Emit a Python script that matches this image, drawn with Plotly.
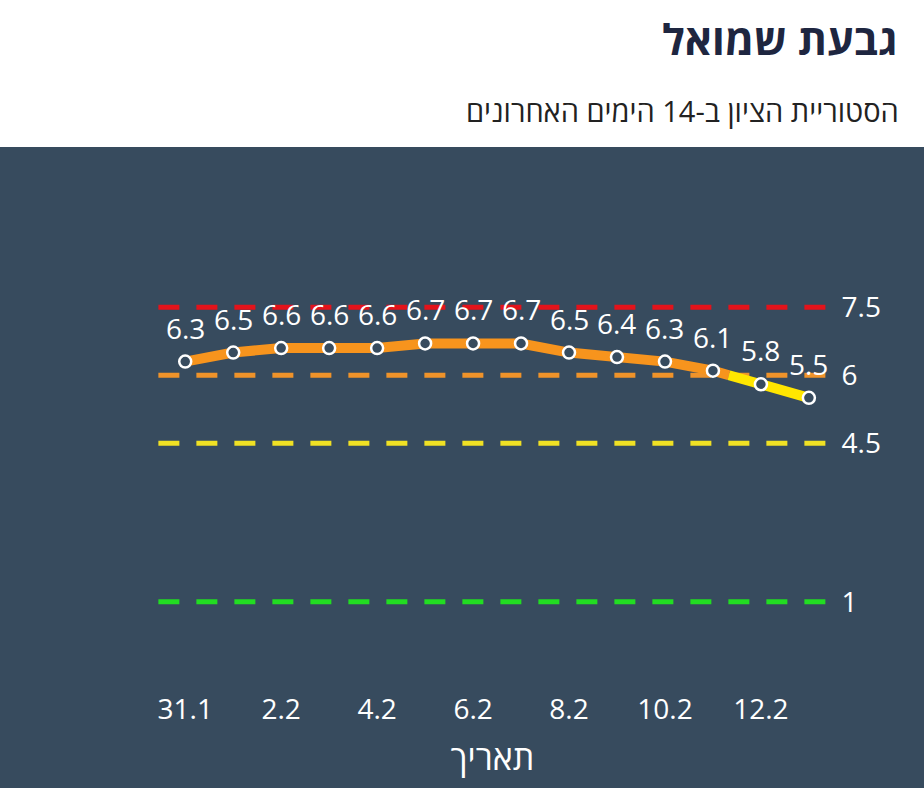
import plotly.graph_objects as go

dates = ["31.1", "1.2", "2.2", "3.2", "4.2", "5.2", "6.2", "7.2", "8.2", "9.2", "10.2", "11.2", "12.2", "13.2"]
scores = [6.3, 6.5, 6.6, 6.6, 6.6, 6.7, 6.7, 6.7, 6.5, 6.4, 6.3, 6.1, 5.8, 5.5]
tick_labels = ["31.1", "2.2", "4.2", "6.2", "8.2", "10.2", "12.2"]
thresholds = [7.5, 6, 4.5, 1]
threshold_colors = ["#e3131b", "#ef932a", "#f0e124", "#22dd22"]
title_text = "גבעת שמואל"
subtitle_text = "הסטוריית הציון ב-14 הימים האחרונים"
xaxis_title = "תאריך"

BG = "#374b5e"
FONT = "Open Sans, DejaVu Sans, sans-serif"
ORANGE = "#f7941d"
YELLOW = "#ffe600"

# split the line where it crosses the orange threshold (6)
idx = list(range(len(scores)))
cut = 6.0
orange_x, orange_y, yellow_x, yellow_y = [], [], [], []
for i in range(len(scores)):
    if scores[i] >= cut:
        orange_x.append(i); orange_y.append(scores[i])
    if i + 1 < len(scores) and (scores[i] - cut) * (scores[i + 1] - cut) < 0:
        t = (scores[i] - cut) / (scores[i] - scores[i + 1])
        xc = i + t
        orange_x.append(xc); orange_y.append(cut)
        yellow_x.append(xc); yellow_y.append(cut)
    if scores[i] < cut:
        yellow_x.append(i); yellow_y.append(scores[i])

L, R, T, B = 155, 94, 194, 141
W, H = 924, 788
pw = W - L - R
ph = H - T - B

fig = go.Figure()
fig.add_trace(go.Scatter(x=orange_x, y=orange_y, mode="lines",
                         line=dict(color=ORANGE, width=10), hoverinfo="skip", showlegend=False))
fig.add_trace(go.Scatter(x=yellow_x, y=yellow_y, mode="lines",
                         line=dict(color=YELLOW, width=10), hoverinfo="skip", showlegend=False))
fig.add_trace(go.Scatter(x=idx, y=scores, mode="markers",
                         marker=dict(size=12, color=BG, line=dict(color="white", width=2.5)),
                         showlegend=False))

shapes = [dict(type="rect", xref="paper", yref="paper",
               x0=-L / pw - 0.01, x1=(W - L) / pw + 0.01,
               y0=-B / ph - 0.01, y1=(H - 147 - B) / ph,
               fillcolor=BG, line=dict(width=0), layer="below")]
for v, c in zip(thresholds, threshold_colors):
    shapes.append(dict(type="line", xref="paper", yref="y", x0=0.005, x1=0.995, y0=v, y1=v,
                       line=dict(color=c, width=5, dash="21px,17px"), layer="below"))

annotations = []
for i, v in enumerate(scores):
    annotations.append(dict(x=i, y=v, text=str(v), showarrow=False, yshift=34,
                            font=dict(family=FONT, size=28, color="white")))
annotations.append(dict(xref="paper", yref="paper", x=(900 - L) / pw, y=(H - B - 38) / ph,
                        xanchor="right", yanchor="middle", showarrow=False,
                        text="<b>" + title_text + "</b>",
                        font=dict(family=FONT, size=42, color="#1e2640")))
annotations.append(dict(xref="paper", yref="paper", x=(901 - L) / pw, y=(H - B - 111) / ph,
                        xanchor="right", yanchor="middle", showarrow=False,
                        text=subtitle_text,
                        font=dict(family=FONT, size=29, color="#222222")))

fig.update_layout(
    width=W, height=H,
    margin=dict(l=L, r=R, t=T, b=B),
    paper_bgcolor="white", plot_bgcolor="rgba(0,0,0,0)",
    shapes=shapes, annotations=annotations,
    font=dict(family=FONT, color="white"),
    xaxis=dict(range=[-0.63, 13.44], showgrid=False, zeroline=False, showline=False,
               tickmode="array", tickvals=[dates.index(d) for d in tick_labels], ticktext=tick_labels,
               ticks="outside", ticklen=37, tickcolor="rgba(0,0,0,0)",
               tickfont=dict(family=FONT, size=28, color="white"),
               title=dict(text=xaxis_title, font=dict(family=FONT, size=34, color="white"), standoff=20)),
    yaxis=dict(range=[0, 10], side="right", showgrid=False, zeroline=False, showline=False,
               tickmode="array", tickvals=thresholds, ticktext=[str(t) for t in thresholds],
               ticks="outside", ticklen=5, tickcolor="rgba(0,0,0,0)",
               tickfont=dict(family=FONT, size=28, color="white")),
)

fig.write_html("out.html")
